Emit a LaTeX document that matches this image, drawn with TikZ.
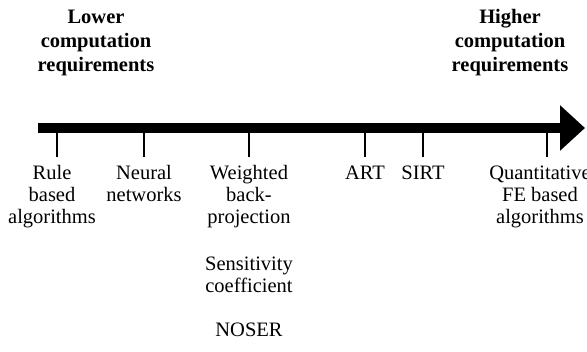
\documentclass[tikz,border=0pt]{standalone}
\usepackage{fontspec}
\setmainfont{Liberation Serif}
\usetikzlibrary{positioning, arrows.meta}

\tikzset{
  method/.style={anchor=base, align=center, inner sep=0pt,
                 font=\fontsize{20.5}{22}\selectfont},
  heading/.style={anchor=base, align=center, inner sep=0pt,
                  font=\bfseries\fontsize{20.5}{24}\selectfont},
  marker/.style={line width=1.5pt},
  axisbar/.style={line width=10pt, -{Triangle[length=25pt, width=44pt]}}
}

\begin{document}
\begin{tikzpicture}[x=1pt, y=1pt]
  \useasboundingbox (0,0) rectangle (587,352);

  % the computation axis
  \coordinate (start) at (38,224);
  \coordinate (end) at (585,224);
  \draw[axisbar] (start) -- (end);

  % headings (anchored on the last line)
  \node[heading] (lower) at (96,280) {Lower\\computation\\requirements};
  \node[heading] (higher) at (510,280) {Higher\\computation\\requirements};

  % tick marks under the bar
  \coordinate (trule) at (57,219);
  \coordinate (tneural) at (144,219);
  \coordinate (tweighted) at (249,219);
  \coordinate (tart) at (365,219);
  \coordinate (tsirt) at (423,219);
  \coordinate (tquant) at (547,219);
  \draw[marker] (trule) -- ++(0,-24);
  \draw[marker] (tneural) -- ++(0,-24);
  \draw[marker] (tweighted) -- ++(0,-24);
  \draw[marker] (tart) -- ++(0,-24);
  \draw[marker] (tsirt) -- ++(0,-24);
  \draw[marker] (tquant) -- ++(0,-24);

  % methods (anchored on the last line)
  \node[method] (rule) at (52,128) {Rule\\based\\algorithms};
  \node[method] (neural) at (144,150) {Neural\\networks};
  \node[method] (weighted) at (249,128) {Weighted\\back-\\projection};
  \node[method] (art) at (365,172) {ART};
  \node[method] (sirt) at (423,172) {SIRT};
  \node[method] (quant) at (540,128) {Quantitative\\FE based\\algorithms};
  \node[method] (sens) at (249,59) {Sensitivity\\coefficient};
  \node[method] (noser) at (249,15) {NOSER};
\end{tikzpicture}
\end{document}
